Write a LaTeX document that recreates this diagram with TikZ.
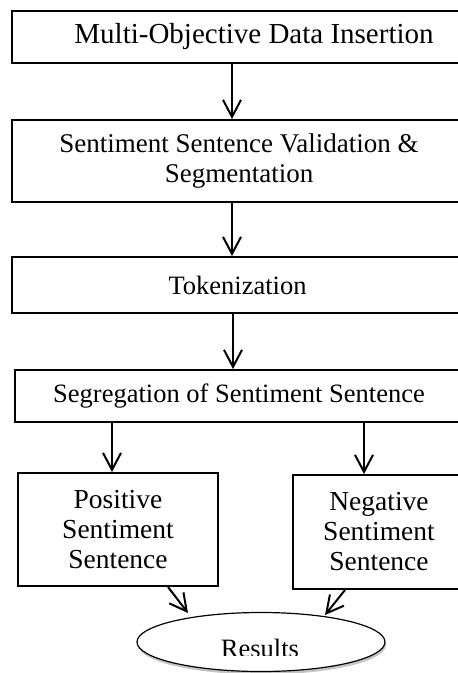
\documentclass[tikz,border=0pt]{standalone}
\usepackage{fontspec}
\setmainfont{Liberation Serif}
\usetikzlibrary{arrows.meta,shadows,shapes.geometric}
\begin{document}
\begin{tikzpicture}[x=1pt,y=-1pt,
  box/.style={draw=black,line width=2pt,rectangle,inner sep=0pt,align=center,
    font=\fontsize{26.5}{30}\selectfont},
  arr/.style={line width=2pt,-{Straight Barb[length=17pt,width=18pt,line width=2pt]}},
  resell/.style={draw=black,line width=1.2pt,ellipse,fill=white,
    drop shadow={opacity=0.45,shadow xshift=1pt,shadow yshift=-3pt}}]
\useasboundingbox (0,0) rectangle (458,673);
\clip (0,0) rectangle (458,673);
\fill[white] (0,0) rectangle (458,673);
\node[box,minimum width=484pt,minimum height=52pt,font=\fontsize{29}{32}\selectfont] (b1) at (254,37) {Multi-Objective Data Insertion};
\node[box,minimum width=454pt,minimum height=82pt,font=\fontsize{27}{30}\selectfont] (b2) at (239,161) {Sentiment Sentence Validation \&\\Segmentation};
\node[box,minimum width=451pt,minimum height=56pt] (b3) at (237.5,285) {Tokenization};
\node[box,minimum width=448pt,minimum height=52pt] (b4) at (239,396) {Segregation of Sentiment Sentence};
\node[box,minimum width=200pt,minimum height=113pt,font=\fontsize{27.5}{30}\selectfont] (b5) at (118,529.5) {Positive\\Sentiment\\Sentence};
\node[box,minimum width=172pt,minimum height=114pt,font=\fontsize{27.5}{30}\selectfont] (b6) at (379,532) {Negative\\Sentiment\\Sentence};
\node[resell,minimum width=248pt,minimum height=59pt,inner sep=0pt] (res) at (261,642) {};
\begin{scope}
\clip (0,600) rectangle (458,655);
\node[font=\fontsize{26.5}{30}\selectfont,anchor=base,inner sep=0pt] (rt) at (260,657.5) {Results};
\end{scope}
\coordinate (cx) at (232,0);
\coordinate (lx) at (112,0);
\coordinate (rx) at (364,0);
\coordinate (l1) at (168,0);
\coordinate (l2) at (188,613);
\coordinate (r1) at (345,0);
\coordinate (r2) at (325,615);
\draw[arr] (b1.south -| cx) -- (b2.north -| cx);
\draw[arr] (b2.south -| cx) -- (b3.north -| cx);
\draw[arr] ([xshift=1pt]b3.south -| cx) -- ([xshift=1pt]b4.north -| cx);
\draw[arr] (b4.south -| lx) -- (b5.north -| lx);
\draw[arr] (b4.south -| rx) -- (b6.north -| rx);
\draw[arr] (b5.south -| l1) -- (l2);
\draw[arr] (b6.south -| r1) -- (r2);
\end{tikzpicture}
\end{document}
